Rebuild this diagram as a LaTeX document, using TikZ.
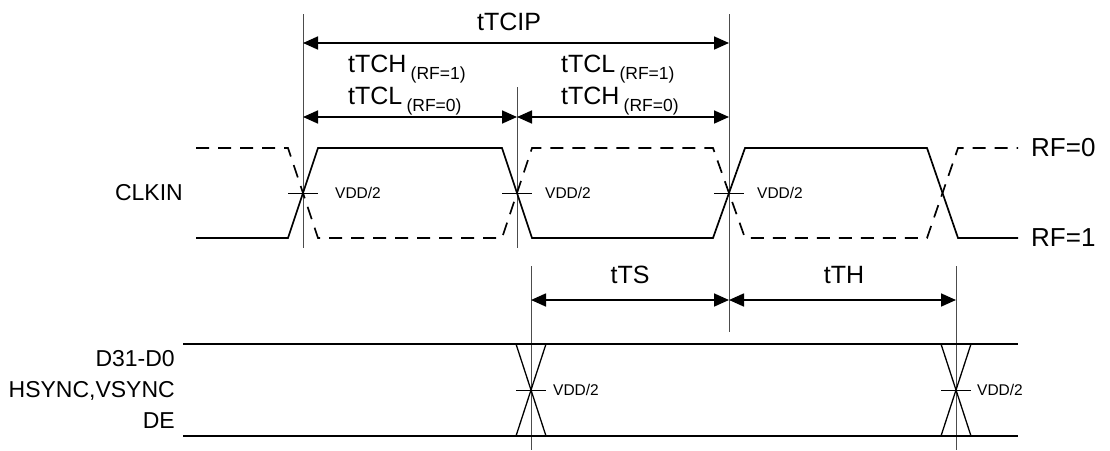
\documentclass[tikz,border=0pt]{standalone}
\usepackage{fontspec}
\setmainfont{Liberation Sans}
\usetikzlibrary{arrows.meta}
\newcommand\RFsub[1]{\,\raisebox{-7pt}{\fontsize{17.5}{19}\selectfont(RF=#1)}}
\begin{document}
\begin{tikzpicture}[x=1pt,y=-1pt,
 sig/.style={line width=1.7pt,line join=miter,line cap=butt},
 dsig/.style={sig,dash pattern=on 13pt off 9pt},
 xsig/.style={line width=1.3pt},
 guide/.style={line width=1pt,draw=black!70},
 dimarrow/.style={line width=1.7pt,{Triangle[length=15pt,width=13pt]}-{Triangle[length=15pt,width=13pt]}},
 big/.style={font=\fontsize{23}{27}\selectfont,inner sep=0pt},
 dimlabel/.style={font=\fontsize{25}{29}\selectfont,inner sep=0pt},
 rflabel/.style={font=\fontsize{26}{30}\selectfont,inner sep=0pt,anchor=west},
 vdd/.style={font=\fontsize{15.5}{17}\selectfont,inner sep=0pt,anchor=west},
 tick/.style={line width=1pt}
]
\useasboundingbox (0,0) rectangle (1110,450);

% guide lines
\coordinate (A1) at (303,14);  \coordinate (A2) at (303,248);
\coordinate (B1) at (517,87);  \coordinate (B2) at (517,248);
\coordinate (C1) at (729,14);  \coordinate (C2) at (729,332);
\coordinate (D1) at (531,266); \coordinate (D2) at (531,450);
\coordinate (E1) at (956,266); \coordinate (E2) at (956,450);
\draw[guide] (A1) -- (A2);
\draw[guide] (B1) -- (B2);
\draw[guide] (C1) -- (C2);
\draw[guide] (D1) -- (D2);
\draw[guide] (E1) -- (E2);

% dimension arrows
\coordinate (pA) at (303,43);  \coordinate (pC) at (729,43);
\coordinate (qA) at (303,117); \coordinate (qB) at (517,117); \coordinate (qC) at (729,117);
\coordinate (rD) at (531,300); \coordinate (rC) at (729,300); \coordinate (rE) at (956,300);
\draw[dimarrow] (pA) -- (pC);
\draw[dimarrow] (qA) -- (qB);
\draw[dimarrow] (qB) -- (qC);
\draw[dimarrow] (rD) -- (rC);
\draw[dimarrow] (rC) -- (rE);

% dimension labels
\node[dimlabel,anchor=base] (tcip) at (509,30) {tTCIP};
\node[dimlabel,anchor=base west] (l1) at (348,72) {tTCH\RFsub{1}};
\node[dimlabel,anchor=base west] (l2) at (348,104) {tTCL\RFsub{0}};
\node[dimlabel,anchor=base west] (l3) at (561,72) {tTCL\RFsub{1}};
\node[dimlabel,anchor=base west] (l4) at (561,104) {tTCH\RFsub{0}};
\node[dimlabel,anchor=base] (tts) at (630,283) {tTS};
\node[dimlabel,anchor=base] (tth) at (844,283) {tTH};

% signal names
\node[big,anchor=east] (clk) at (183,193) {CLKIN};
\node[big,anchor=east,align=right,font=\fontsize{23}{31}\selectfont] (data) at (175,389) {D31-D0\\HSYNC,VSYNC\\DE};
\node[rflabel] (rf0) at (1031,148) {RF=0};
\node[rflabel] (rf1) at (1031,238) {RF=1};

% CLKIN waveforms
\draw[sig] (196,238) -- (288,238) -- (318,148) -- (502,148) -- (532,238) -- (713,238) -- (745,148) -- (927,148) -- (958,238) -- (1018,238);
\draw[dsig] (196,148) -- (288,148) -- (318,238) -- (502,238) -- (532,148) -- (713,148) -- (745,238) -- (927,238) -- (958,148) -- (1018,148);

% CLKIN threshold ticks and labels
\draw[tick] (288,193) -- (318,193);
\draw[tick] (502,193) -- (532,193);
\draw[tick] (714,193) -- (744,193);
\node[vdd] (v1) at (335,193) {VDD/2};
\node[vdd] (v2) at (545,193) {VDD/2};
\node[vdd] (v3) at (757,193) {VDD/2};

% data bus
\draw[sig] (183,344) -- (1018,344);
\draw[sig] (183,436) -- (1018,436);
\draw[xsig] (516,344) -- (546,436);
\draw[xsig] (546,344) -- (516,436);
\draw[xsig] (941,344) -- (971,436);
\draw[xsig] (971,344) -- (941,436);
\draw[tick] (516,390) -- (546,390);
\draw[tick] (941,390) -- (971,390);
\node[vdd] (v4) at (553,390) {VDD/2};
\node[vdd] (v5) at (977,390) {VDD/2};
\end{tikzpicture}
\end{document}
